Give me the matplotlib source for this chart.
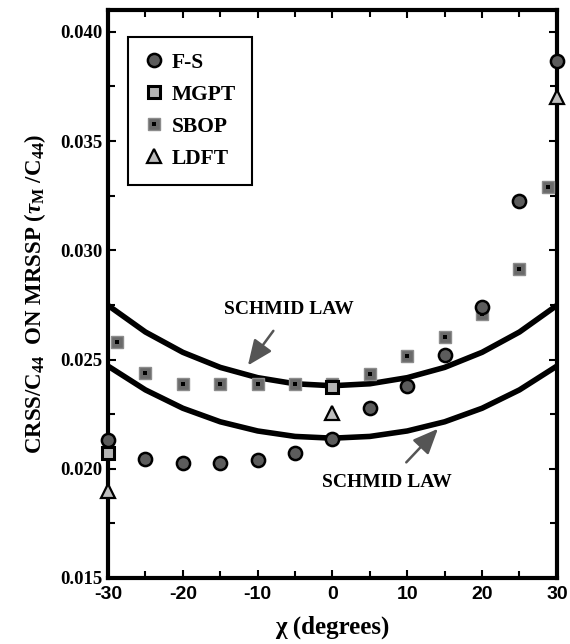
import numpy as np
import matplotlib
matplotlib.use('Agg')
import matplotlib.pyplot as plt
from matplotlib.ticker import MultipleLocator, FormatStrFormatter
from matplotlib.lines import Line2D

plt.rcParams['font.family'] = ['Liberation Serif', 'DejaVu Serif']
plt.rcParams['font.weight'] = 'bold'
plt.rcParams['axes.unicode_minus'] = False
plt.rcParams['mathtext.fontset'] = 'custom'
plt.rcParams['mathtext.rm'] = 'Liberation Serif:bold'
plt.rcParams['mathtext.it'] = 'Liberation Serif:italic:bold'
plt.rcParams['mathtext.bf'] = 'Liberation Serif:bold'

# 데이터
chi = [-30, -25, -20, -15, -10, -5, 0, 5, 10, 15, 20, 25, 30]
fs = [0.0213, 0.02046, 0.02025, 0.02025, 0.0204, 0.0207, 0.02135, 0.0228, 0.0238, 0.0252, 0.0274, 0.03225, 0.03867]

chi_mgpt = [-30, 0]
mgpt = [0.02073, 0.02375]

chi_sbop = [-28.8, -25, -20, -15, -10, -5, 0, 5, 10, 15, 20, 25, 28.8]
sbop = [0.02578, 0.02438, 0.0239, 0.02387, 0.02387, 0.02387, 0.0239, 0.02433, 0.02518, 0.02601, 0.0271, 0.02913, 0.03289]

chi_ldft = [-30, 0, 30]
ldft = [0.01899, 0.02257, 0.03702]

# Schmid law 곡선
chi_curve = [-30, -25, -20, -15, -10, -5, 0, 5, 10, 15, 20, 25, 30]
schmid_upper = [0.02748, 0.02626, 0.02533, 0.02464, 0.02417, 0.02389, 0.0238, 0.02389, 0.02417, 0.02464, 0.02533, 0.02626, 0.02748]
schmid_lower = [0.0247, 0.02361, 0.02277, 0.02215, 0.02173, 0.02148, 0.0214, 0.02148, 0.02173, 0.02215, 0.02277, 0.02361, 0.0247]

fig = plt.figure(figsize=(5.7, 6.44), dpi=100)
ax = fig.add_axes([0.1895, 0.1025, 0.7875, 0.882])

ax.plot(chi_curve, schmid_upper, color='black', lw=4, zorder=2)
ax.plot(chi_curve, schmid_lower, color='black', lw=4, zorder=2)

ax.plot(chi_sbop, sbop, ls='none', marker='s', ms=8.5, mfc='#6a6a6a', mec='#8c8c8c', mew=1, zorder=3, clip_on=False)
ax.plot(chi_sbop, sbop, ls='none', marker='s', ms=2.5, mfc='black', mec='black', mew=0, zorder=3.1, clip_on=False)
ax.plot(chi, fs, ls='none', marker='o', ms=9.5, mfc='#5c5c5c', mec='black', mew=1.8, zorder=4, clip_on=False)
ax.plot(chi_mgpt, mgpt, ls='none', marker='s', ms=8.5, mfc='#b4b4b4', mec='black', mew=2.2, zorder=5, clip_on=False)
ax.plot(chi_ldft, ldft, ls='none', marker='^', ms=9.5, mfc='#bdbdbd', mec='black', mew=1.6, zorder=6, clip_on=False)

# 화살표 주석
ax.annotate('SCHMID LAW', xy=(-11.3, 0.02473), xytext=(-5.8, 0.02729),
            ha='center', va='center', fontsize=14, fontweight='bold',
            arrowprops=dict(arrowstyle='-|>,head_length=0.7,head_width=0.3', color='#555555', lw=1.8,
                            mutation_scale=22, shrinkA=9, shrinkB=0))
ax.annotate('SCHMID LAW', xy=(14.1, 0.02183), xytext=(7.3, 0.01936),
            ha='center', va='center', fontsize=14, fontweight='bold',
            arrowprops=dict(arrowstyle='-|>,head_length=0.7,head_width=0.3', color='#555555', lw=1.8,
                            mutation_scale=22, shrinkA=9, shrinkB=0))

ax.set_xlim(-30, 30)
ax.set_ylim(0.015, 0.041)
ax.xaxis.set_major_locator(MultipleLocator(10))
ax.xaxis.set_minor_locator(MultipleLocator(5))
ax.yaxis.set_major_locator(MultipleLocator(0.005))
ax.yaxis.set_minor_locator(MultipleLocator(0.0025))
ax.yaxis.set_major_formatter(FormatStrFormatter('%.3f'))

ax.tick_params(which='both', direction='in', top=True, right=True, width=1.5)
ax.tick_params(which='major', length=6)
ax.tick_params(which='minor', length=5)
ax.tick_params(axis='x', which='major', labelsize=14, labelfontfamily='Liberation Sans', pad=6)
ax.tick_params(axis='y', which='major', labelsize=13.5, pad=4)

for s in ax.spines.values():
    s.set_linewidth(3)

ax.set_xlabel('χ (degrees)', fontsize=18, fontweight='bold', labelpad=9)
ax.set_ylabel(r'CRSS/C$_{\mathregular{44}}$  ON MRSSP ($\tau_{\mathregular{M}}$ /C$_{\mathregular{44}}$)',
              fontsize=16.5, fontweight='bold', labelpad=9)

# 범례
h_fs = Line2D([], [], ls='none', marker='o', ms=9.5, mfc='#5c5c5c', mec='black', mew=1.8)
h_mgpt = Line2D([], [], ls='none', marker='s', ms=8.5, mfc='#b4b4b4', mec='black', mew=2.2)
h_sbop1 = Line2D([], [], ls='none', marker='s', ms=8.5, mfc='#6a6a6a', mec='#8c8c8c', mew=1)
h_sbop2 = Line2D([], [], ls='none', marker='s', ms=2.5, mfc='black', mec='black', mew=0)
h_ldft = Line2D([], [], ls='none', marker='^', ms=9.5, mfc='#bdbdbd', mec='black', mew=1.6)
leg = ax.legend([h_fs, h_mgpt, (h_sbop1, h_sbop2), h_ldft], ['F-S', 'MGPT', 'SBOP', 'LDFT'],
                loc='upper left', bbox_to_anchor=(0.044, 0.953), borderaxespad=0,
                fancybox=False, framealpha=1, edgecolor='black', fontsize=15.5,
                handlelength=0.9, handletextpad=0.4, labelspacing=0.55, borderpad=0.75)
leg.get_frame().set_linewidth(1.5)

plt.savefig('out.png', dpi=100)
plt.close()
